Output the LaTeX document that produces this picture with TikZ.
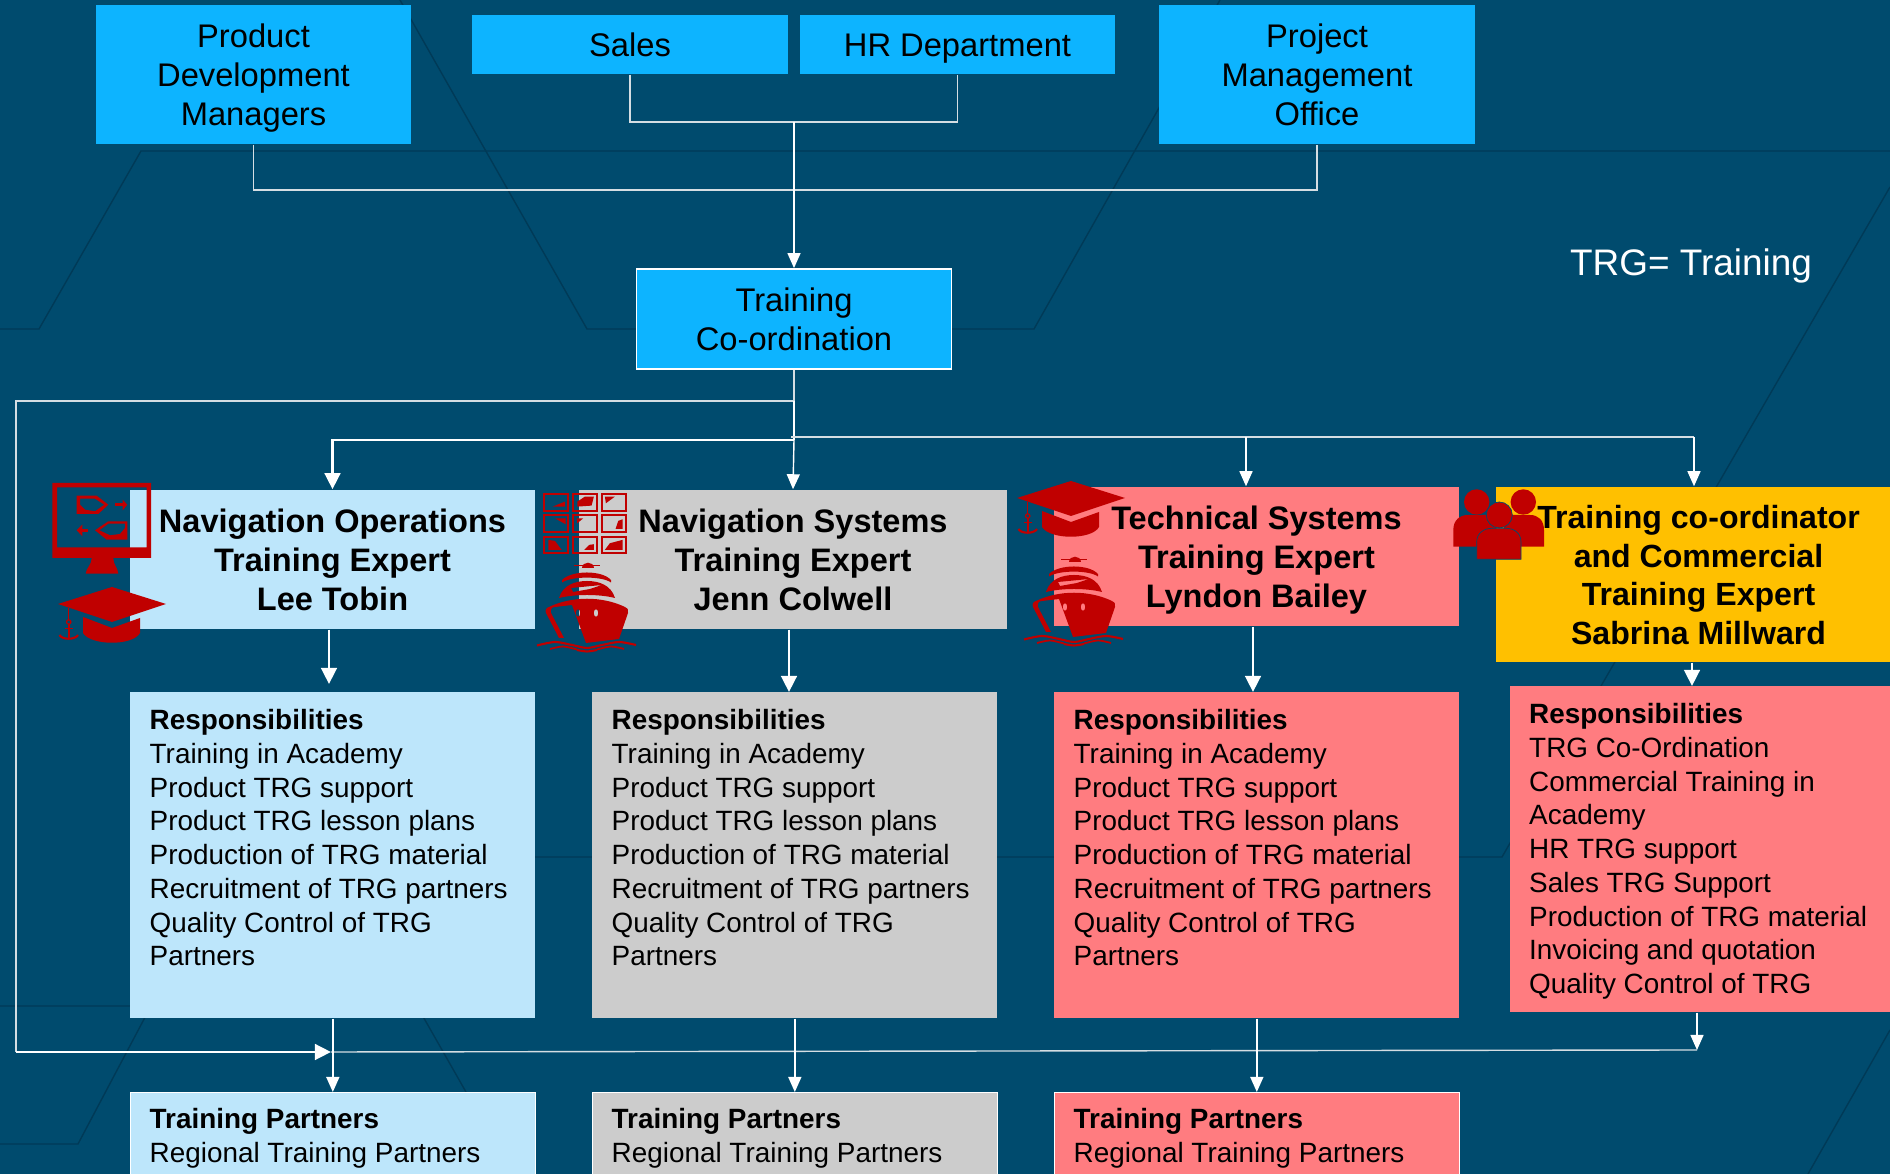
\documentclass[tikz,border=0pt]{standalone}
\usepackage{fontspec}
\setmainfont{Liberation Sans}
\usetikzlibrary{arrows.meta}
\definecolor{bgblue}{HTML}{004B6E}
\definecolor{bgline}{HTML}{003A57}
\definecolor{boxblue}{HTML}{0DB4FF}
\definecolor{lightblue}{HTML}{BDE6FB}
\definecolor{lightgrey}{HTML}{CCCCCC}
\definecolor{salmon}{HTML}{FF7C80}
\definecolor{gold}{HTML}{FFC000}
\definecolor{iconred}{HTML}{C00000}
\definecolor{linegrey}{HTML}{D5DEE3}
\tikzset{
  lineone/.style={text height=0.24cm,text depth=0cm},
  linetwo/.style={text height=0.63cm,text depth=0cm},
  linethree/.style={text height=1.02cm,text depth=0cm},
  linefour/.style={text height=1.40cm,text depth=0cm},
  topbox/.style={rectangle,fill=boxblue,align=center,inner sep=0pt,minimum width=3.15cm,font=\fontsize{9.3}{11.1}\selectfont},
  headbox/.style={rectangle,align=center,inner sep=0pt,minimum width=4.05cm,font=\fontsize{9.25}{11.1}\selectfont\bfseries},
  textbox/.style={rectangle,anchor=north west,align=flush left,inner xsep=0.195cm,inner ysep=0pt,text width=3.66cm,font=\fontsize{7.93}{9.59}\selectfont},
  respbox/.style={textbox,text height=0.38cm,text depth=2.88cm},
  partbox/.style={textbox,draw=white,line width=0.4pt,text height=0.36cm,text depth=0.46cm},
  bgpath/.style={draw=bgline,line width=0.4pt},
  conn/.style={draw=linegrey,line width=0.4pt},
  flow/.style={draw=white,line width=0.4pt,-{Triangle[length=0.15cm,width=0.13cm]}},
  flowthick/.style={draw=white,line width=0.8pt,-{Triangle[length=0.16cm,width=0.155cm]}},
  gradcap/.pic={
    \fill[iconred] (0,0) -- (54,-17) -- (108,0) -- (54,18) -- cycle;
    \fill[iconred] (25,13) -- (54,24) -- (82,14) -- (82,29) .. controls (75,42) and (33,42) .. (25,29) -- cycle;
    \draw[iconred,line width=0.25pt] (10.7,4) -- (10.7,16);
    \draw[iconred,line width=0.35pt] (10.7,18) circle [radius=2.2];
    \draw[iconred,line width=0.6pt] (10.7,20) -- (10.7,35);
    \draw[iconred,line width=0.5pt] (7,24.5) -- (15,24.5);
    \draw[iconred,line width=0.6pt] (1.5,31) .. controls (4,36) and (17,36) .. (20,31);
  },
  shipicon/.pic={
    \fill[iconred] (-5,7) .. controls (-5,0) and (7,0) .. (7,7) -- cycle;
    \draw[iconred,line width=0.4pt] (-13,4.5) -- (13,4.5);
    \fill[iconred] (-25,19) .. controls (-15,9) and (15,9) .. (24,19) -- (24,21.5) .. controls (15,15) and (-15,15) .. (-25,21.5) -- cycle;
    \fill[iconred,even odd rule] (-28,37) .. controls (-24,24) and (-12,20) .. (0,20) .. controls (12,20) and (24,24) .. (28,37) .. controls (12,33) and (-12,33) .. (-28,37) -- cycle
      (-16,27) -- (15,24) -- (3,28) -- (-14,31) -- cycle;
    \fill[iconred,even odd rule] (-23,77) -- (-36,52) .. controls (-37,48) and (-35,46) .. (-32,46) -- (-15,44) -- (-1,82) -- (32,78) -- (41,52) .. controls (41,48) and (41,47) .. (38,46) .. controls (15,35) and (-15,35) .. (-38,46) .. controls (-41,47) and (-42,49) .. (-41,52) -- (-28,77) -- cycle
      (-9,52) ellipse [x radius=2.3,y radius=3.8]
      (9,52) ellipse [x radius=2.3,y radius=3.8];
    \draw[iconred,line width=0.6pt] plot[smooth] coordinates {(-50,84.5) (-32,81) (-15,84) (0,87) (15,84) (32,81) (49,84)};
    \draw[iconred,line width=0.5pt] plot[smooth] coordinates {(-37,88) (-24,85.5) (-10,88.5)};
    \draw[iconred,line width=0.5pt] plot[smooth] coordinates {(10,88.5) (24,85.5) (37,88)};
    \draw[iconred,line width=0.6pt] plot[smooth] coordinates {(-10,89) (0,90.5) (10,89)};
  }
}
\begin{document}
\begin{tikzpicture}[x=0.01cm,y=-0.01cm]
\useasboundingbox (0,0) rectangle (1890,1174);
\fill[bgblue] (0,0) rectangle (1890,1174);
\draw[bgpath] (1890,151) -- (141,151) -- (39,329) -- (0,329);
\draw[bgpath] (400,0) -- (587,329) -- (636,329);
\draw[bgpath] (1220,0) -- (1034,329) -- (952,329);
\draw[bgpath] (1890,187) -- (1502,857) -- (535,857);
\draw[bgpath] (0,1006) -- (417,1006) -- (466,1092);
\draw[bgpath] (151,1006) -- (78,1144) -- (0,1144);
\draw[bgpath] (1890,1030) -- (1808,1174);
\node at (253.5,74.5)[topbox,linethree,minimum height=1.39cm](pdm){Product\\Development\\Managers};
\node at (630,44.5)[topbox,lineone,minimum height=0.59cm](sales){Sales};
\node at (957.5,44.5)[topbox,lineone,minimum height=0.59cm](hrd){HR Department};
\node at (1317,74.5)[topbox,linethree,minimum height=1.39cm](pmo){Project\\Management\\Office};
\node at (794,319)[topbox,linetwo,draw=white,line width=0.5pt,minimum height=1.0cm](coord){Training\\Co-ordination};
\node at (1691,266)[text=white,font=\fontsize{10.5}{12}\selectfont](trgnote){TRG= Training};
\node at (332.5,559.5)[headbox,linethree,fill=lightblue,minimum height=1.39cm](navops){Navigation Operations\\Training Expert\\Lee Tobin};
\node at (793,559.5)[headbox,linethree,fill=lightgrey,minimum width=4.28cm,minimum height=1.39cm](navsys){Navigation Systems\\Training Expert\\Jenn Colwell};
\node at (1256.5,556.5)[headbox,linethree,fill=salmon,minimum height=1.39cm](techsys){Technical Systems\\Training Expert\\Lyndon Bailey};
\node at (1698.5,574.5)[headbox,linefour,fill=gold,minimum height=1.75cm,font=\fontsize{9.12}{10.98}\selectfont\bfseries](trgcom){Training co-ordinator\\and Commercial\\Training Expert\\Sabrina Millward};
\node at (129.5,691)[respbox,fill=lightblue](resp1){\textbf{Responsibilities}\\Training in Academy\\Product TRG support\\Product TRG lesson plans\\Production of TRG material\\Recruitment of TRG partners\\Quality Control of TRG\\Partners};
\node at (591.5,691)[respbox,fill=lightgrey](resp2){\textbf{Responsibilities}\\Training in Academy\\Product TRG support\\Product TRG lesson plans\\Production of TRG material\\Recruitment of TRG partners\\Quality Control of TRG\\Partners};
\node at (1053.5,691)[respbox,fill=salmon](resp3){\textbf{Responsibilities}\\Training in Academy\\Product TRG support\\Product TRG lesson plans\\Production of TRG material\\Recruitment of TRG partners\\Quality Control of TRG\\Partners};
\node at (1509,685)[respbox,fill=salmon,text width=3.42cm](resp4){\textbf{Responsibilities}\\TRG Co-Ordination\\Commercial Training in\\Academy\\HR TRG support\\Sales TRG Support\\Production of TRG material\\Invoicing and quotation\\Quality Control of TRG};
\node at (129.5,1092)[partbox,fill=lightblue](part1){\textbf{Training Partners}\\Regional Training Partners};
\node at (591.5,1092)[partbox,fill=lightgrey](part2){\textbf{Training Partners}\\Regional Training Partners};
\node at (1053.5,1092)[partbox,fill=salmon](part3){\textbf{Training Partners}\\Regional Training Partners};
\coordinate (jsales) at (794,122);
\coordinate (jtop) at (794,190);
\coordinate (jfeed) at (794,401);
\coordinate (jleft) at (16,401);
\coordinate (jlow) at (16,1052);
\coordinate (jarr) at (331,1052);
\coordinate (jend) at (1697,1050);
\coordinate (jrow) at (794,440);
\coordinate (jright) at (791,437);
\coordinate (jtech) at (1246,437);
\coordinate (jtrg) at (1694,437);
\coordinate (down1) at (329,684);
\coordinate (down2) at (789,692);
\coordinate (down3) at (1253,692);
\coordinate (down4) at (1692,686);
\draw[conn] (sales.south) |- (jsales) -| (hrd.south);
\draw[conn] (pdm.south) |- (jtop) -| (pmo.south);
\draw[flow] (jsales) -- (coord.north);
\draw[conn] (coord.south) -- (jfeed) -- (jleft) -- (jlow);
\draw[flowthick] (jlow) -- (jarr);
\draw[conn] (jarr) -- (jend);
\draw[draw=white,line width=0.4pt] (jfeed) -- (jrow);
\draw[flowthick] (jrow) -| (navops.north);
\draw[flow] (jrow) -- (navsys.north);
\draw[conn] (jright) -- (jtrg);
\draw[flow] (jtech) -- (jtech|-techsys.north);
\draw[flow] (jtrg) -- (jtrg|-trgcom.north);
\draw[flowthick] (down1|-navops.south) -- (down1);
\draw[flowthick] (down2|-navsys.south) -- (down2);
\draw[flowthick] (down3|-techsys.south) -- (down3);
\draw[flowthick] (down4|-trgcom.south) -- (down4);
\draw[flow] (resp1.south) -- (part1.north);
\draw[flow] (resp2.south) -- (part2.north);
\draw[flow] (resp3.south) -- (part3.north);
\draw[flow] (jend|-resp4.south) -- (jend);
\fill[iconred,even odd rule] (52.3,483) rectangle (151,558) (57,487.3) rectangle (146.7,547.3);
\fill[iconred] (91.7,558) -- (113.3,558) .. controls (113.3,565) and (118,568) .. (118.3,573.7) -- (85.7,573.7) .. controls (86,568) and (91.7,565) .. (91.7,558) -- cycle;
\fill[iconred,even odd rule] (76.7,495.7) -- (96.7,495.7) -- (108.3,504.7) -- (98.3,514) -- (76.7,514) -- cycle (80,498.7) -- (95,498.7) -- (104.3,504.7) -- (95,511.3) -- (85,509.7) -- (80,504.7) -- cycle;
\fill[iconred,even odd rule] (127.3,521.3) -- (108.3,521.3) -- (95,530.3) -- (106.7,539.7) -- (127.3,539.7) -- cycle (125,523.7) -- (108.3,523.7) -- (99.3,530.3) -- (110,535.3) -- (120,534) -- (125,528) -- cycle;
\draw[iconred,line width=0.8pt] (115,504.7) -- (123,504.7);
\fill[iconred] (122.7,499.7) -- (127.3,504.7) -- (122.7,510.3) -- cycle;
\draw[iconred,line width=0.8pt] (82,530.3) -- (88.3,530.3);
\fill[iconred] (76.7,530.3) -- (82.3,524.7) -- (82.3,536.3) -- cycle;
\pic at (58,604) {gradcap};
\pic at (1017,498) {gradcap};
\pic at (587,561) {shipicon};
\pic at (1074,555) {shipicon};
\foreach \cx in {544.3,573.3,602}
  \foreach \cy in {494.3,515.3,536.7}
    \draw[iconred,line width=0.55pt] (\cx,\cy) rectangle ++(24,16.6);
\begin{scope}[shift={(530,485)},x=0.003333cm,y=-0.003333cm]
\fill[iconred] (68,65) -- (105,50) -- (105,65) -- cycle;
\fill[iconred] (142,50) -- (165,35) -- (192,35) -- (185,62) -- (142,65) -- cycle;
\fill[iconred] (225,35) -- (255,35) -- (228,55) -- cycle;
\fill[iconred] (75,100) -- (107,100) -- (107,118) -- cycle;
\fill[iconred] (140,100) -- (160,100) -- (142,115) -- cycle;
\fill[iconred] (257,132) -- (265,108) -- (278,103) -- (278,132) -- cycle;
\fill[iconred] (55,165) -- (75,168) -- (95,195) -- (55,195) -- cycle;
\fill[iconred] (163,195) -- (178,180) -- (192,178) -- (192,195) -- cycle;
\fill[iconred] (225,195) -- (240,175) -- (278,165) -- (278,195) -- cycle;
\end{scope}
\fill[iconred] (1476.7,502) circle [radius=12.7];
\fill[iconred] (1523.3,502) circle [radius=12.7];
\fill[iconred] (1453.3,546.7) -- (1453.3,530) .. controls (1453.3,520) and (1460,515) .. (1468,515) -- (1490,515) -- (1505,546.7) -- cycle;
\fill[iconred] (1544,546.7) -- (1544,530) .. controls (1544,520) and (1538,515) .. (1530,515) -- (1510,515) -- (1495,546.7) -- cycle;
\filldraw[fill=iconred,draw=bgblue,line width=0.2pt] (1499.3,515) circle [radius=13];
\filldraw[fill=iconred,draw=bgblue,line width=0.2pt] (1476.7,559.3) -- (1476.7,542) .. controls (1476.7,533) and (1484,528.3) .. (1492,528.3) -- (1506,528.3) .. controls (1514,528.3) and (1521,533) .. (1521,542) -- (1521,559.3) -- cycle;
\end{tikzpicture}
\end{document}
